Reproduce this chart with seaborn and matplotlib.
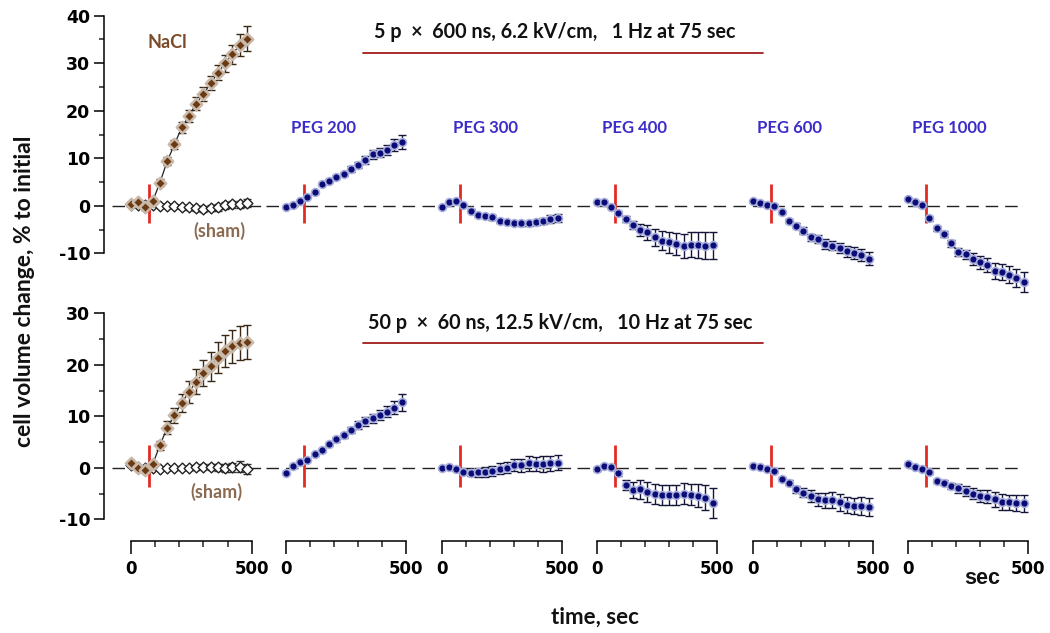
import matplotlib
matplotlib.use("Agg")
import matplotlib.pyplot as plt
from matplotlib.lines import Line2D
import seaborn as sns
import numpy as np

sns.set_theme(style="ticks")
plt.rcParams['font.family'] = ['DejaVu Sans']
plt.rcParams['axes.edgecolor'] = 'black'
plt.rcParams['axes.unicode_minus'] = False

# ---- data ----
time_s = [0, 30, 60, 90, 120, 150, 180, 210, 240, 270, 300, 330, 360, 390, 420, 450, 480]
pulse_time = 75
peg_labels = ["PEG 200", "PEG 300", "PEG 400", "PEG 600", "PEG 1000"]

# top row: 5 p x 600 ns
top_nacl = [0.4, 0.7, -0.3, 1.0, 4.9, 9.4, 12.9, 16.5, 18.9, 21.5, 23.5, 25.8, 28.0, 30.0, 31.9, 33.8, 35.2]
top_nacl_err = [0.5, 0.5, 0.6, 0.7, 0.8, 0.9, 1.0, 1.1, 1.2, 1.3, 1.4, 1.5, 1.6, 1.8, 2.0, 2.3, 2.6]
top_sham = [0.2, 0.2, 0.1, 0.1, 0.0, -0.1, -0.1, -0.2, -0.3, -0.5, -0.6, -0.5, -0.3, 0.1, 0.3, 0.3, 0.6]
top_sham_err = [0.3, 0.3, 0.3, 0.3, 0.3, 0.4, 0.4, 0.4, 0.5, 0.5, 0.6, 0.6, 0.7, 0.7, 0.8, 0.8, 0.9]
top_peg200 = [-0.35, 0.2, 1.05, 1.75, 2.8, 4.6, 5.3, 6.0, 6.7, 7.7, 8.6, 9.6, 10.8, 11.2, 11.7, 12.8, 13.5]
top_peg200_err = [0.2, 0.2, 0.2, 0.2, 0.3, 0.3, 0.3, 0.4, 0.5, 0.6, 0.7, 0.8, 0.9, 1.0, 1.1, 1.3, 1.5]
top_peg300 = [-0.15, 0.7, 1.05, 0.15, -1.05, -2.0, -2.25, -2.45, -3.15, -3.5, -3.65, -3.65, -3.7, -3.5, -3.2, -2.8, -2.6]
top_peg300_err = [0.2, 0.2, 0.2, 0.2, 0.3, 0.3, 0.4, 0.5, 0.4, 0.4, 0.4, 0.5, 0.5, 0.6, 0.7, 0.8, 0.8]
top_peg400 = [0.7, 0.7, -0.15, -1.55, -2.8, -4.0, -5.05, -5.6, -6.65, -7.35, -7.7, -8.05, -8.4, -8.2, -8.3, -8.4, -8.3]
top_peg400_err = [0.2, 0.2, 0.3, 0.4, 0.6, 0.9, 1.2, 1.5, 1.8, 2.0, 2.2, 2.4, 2.5, 2.6, 2.7, 2.8, 2.8]
top_peg600 = [1.05, 0.55, 0.15, 0.0, -1.4, -3.15, -4.2, -5.25, -6.65, -7.0, -8.05, -8.4, -8.9, -9.6, -9.95, -10.3, -11.1]
top_peg600_err = [0.2, 0.2, 0.2, 0.3, 0.3, 0.4, 0.5, 0.7, 0.8, 0.9, 1.0, 1.0, 1.1, 1.2, 1.2, 1.3, 1.4]
top_peg1000 = [1.4, 0.85, 0.15, -2.6, -4.75, -5.95, -7.9, -9.7, -10.2, -11.2, -11.9, -12.4, -13.7, -14.0, -14.5, -15.2, -16.1]
top_peg1000_err = [0.2, 0.2, 0.3, 0.5, 0.6, 0.7, 0.8, 0.9, 1.0, 1.2, 1.3, 1.5, 1.6, 1.7, 1.8, 1.9, 2.1]

# bottom row: 50 p x 60 ns
bot_nacl = [0.85, 0.0, -0.45, 0.7, 4.4, 7.8, 10.2, 12.6, 14.75, 16.7, 18.4, 19.75, 21.35, 22.65, 23.6, 24.15, 24.45]
bot_nacl_err = [0.4, 0.4, 0.5, 0.6, 0.9, 1.2, 1.5, 1.8, 2.1, 2.4, 2.6, 2.8, 3.0, 3.1, 3.2, 3.3, 3.3]
bot_sham = [0.5, 0.2, 0.0, 0.0, -0.2, -0.1, -0.1, 0.0, 0.0, 0.1, 0.2, 0.1, 0.1, 0.0, 0.1, 0.2, -0.3]
bot_sham_err = [0.3, 0.3, 0.3, 0.3, 0.3, 0.3, 0.3, 0.4, 0.4, 0.5, 0.5, 0.6, 0.7, 0.8, 0.9, 1.1, 1.0]
bot_peg200 = [-1.1, 0.4, 1.15, 1.5, 2.65, 3.4, 4.6, 5.5, 6.3, 7.4, 8.3, 9.0, 9.6, 10.2, 10.9, 11.7, 12.7]
bot_peg200_err = [0.2, 0.2, 0.2, 0.2, 0.3, 0.3, 0.3, 0.4, 0.5, 0.6, 0.7, 0.8, 0.9, 1.0, 1.1, 1.3, 1.6]
bot_peg300 = [0.0, 0.2, -0.25, -0.8, -1.0, -0.9, -0.8, -0.6, -0.15, 0.0, 0.5, 0.5, 0.85, 0.7, 0.7, 0.85, 1.0]
bot_peg300_err = [0.2, 0.2, 0.3, 0.5, 0.6, 0.8, 0.9, 1.0, 1.0, 1.1, 1.2, 1.3, 1.4, 1.4, 1.5, 1.5, 1.5]
bot_peg400 = [-0.3, 0.3, 0.2, -1.1, -3.4, -4.3, -4.2, -4.7, -5.1, -5.3, -5.3, -5.3, -5.0, -5.2, -5.4, -5.8, -6.8]
bot_peg400_err = [0.3, 0.3, 0.3, 0.5, 1.0, 1.5, 1.8, 2.0, 2.0, 2.0, 2.0, 2.0, 2.1, 2.1, 2.2, 2.4, 2.9]
bot_peg600 = [0.4, 0.2, -0.15, -0.65, -2.1, -2.9, -4.2, -4.8, -5.5, -6.15, -6.3, -6.3, -6.7, -7.25, -7.45, -7.45, -7.6]
bot_peg600_err = [0.2, 0.2, 0.2, 0.3, 0.4, 0.5, 0.7, 0.9, 1.1, 1.3, 1.5, 1.6, 1.6, 1.6, 1.6, 1.7, 1.8]
bot_peg1000 = [0.65, 0.2, -0.15, -0.9, -2.6, -2.9, -3.55, -4.0, -4.45, -5.0, -5.5, -5.6, -6.15, -6.6, -6.7, -6.8, -6.9]
bot_peg1000_err = [0.2, 0.2, 0.2, 0.3, 0.4, 0.5, 0.6, 0.8, 1.0, 1.1, 1.2, 1.3, 1.4, 1.5, 1.5, 1.6, 1.6]

header_top = "5 p  \u00d7  600 ns, 6.2 kV/cm,   1 Hz at 75 sec"
header_bot = "50 p  \u00d7  60 ns, 12.5 kV/cm,   10 Hz at 75 sec"

rows = [
    dict(nacl=top_nacl, nacl_err=top_nacl_err, sham=top_sham, sham_err=top_sham_err,
         peg=[top_peg200, top_peg300, top_peg400, top_peg600, top_peg1000],
         peg_err=[top_peg200_err, top_peg300_err, top_peg400_err, top_peg600_err, top_peg1000_err],
         zero_py=205.8, scale=4.752, ylim=(-20, 42), bounds=(-10, 40), yticks=[-10, 0, 10, 20, 30, 40],
         sham_pos=(257, -5.3)),
    dict(nacl=bot_nacl, nacl_err=bot_nacl_err, sham=bot_sham, sham_err=bot_sham_err,
         peg=[bot_peg200, bot_peg300, bot_peg400, bot_peg600, bot_peg1000],
         peg_err=[bot_peg200_err, bot_peg300_err, bot_peg400_err, bot_peg600_err, bot_peg1000_err],
         zero_py=467.8, scale=5.15, ylim=(-11.5, 32), bounds=(-10, 30), yticks=[-10, 0, 10, 20, 30],
         sham_pos=(244, -4.6)),
]

# ---- layout (pixel based) ----
W, H = 1050, 633
fig = plt.figure(figsize=(W / 100, H / 100), dpi=100)
px_per_s = 0.2414
xlim = (-80, 563)
zero_px = [131, 285.7, 441.7, 596.7, 752.7, 907.7]
peg_label_x = [20, 45, 22, 18, 17]

nacl_c, nacl_halo = '#6b3a12', '#c8b9aa'
peg_c, peg_halo = '#0b0b78', '#a9b0dc'
pulse_c = '#e32a22'
lab_font = ['Lato', 'DejaVu Sans']

for r, row in enumerate(rows):
    ylo, yhi = row['ylim']
    h_px = row['scale'] * (yhi - ylo)
    bottom_py = row['zero_py'] - row['scale'] * ylo
    for c in range(6):
        left_px = zero_px[c] + xlim[0] * px_per_s
        w_px = (xlim[1] - xlim[0]) * px_per_s
        ax = fig.add_axes([left_px / W, 1 - bottom_py / H, w_px / W, h_px / H])
        ax.patch.set_alpha(0)
        ax.set_xlim(*xlim)
        ax.set_ylim(ylo, yhi)
        for s in ['top', 'right']:
            ax.spines[s].set_visible(False)

        # dashed zero line
        x_end = 475 if c == 5 else xlim[1]
        ax.hlines(0, xlim[0], x_end, colors='#222222', linestyles=(0, (9, 5)), linewidth=1.0, zorder=1)
        # pulse marker
        ax.vlines(pulse_time, -3.7, 4.5, colors=pulse_c, linewidth=2.0, zorder=2)

        if c == 0:
            ax.errorbar(time_s, row['sham'], yerr=row['sham_err'], fmt='none', ecolor='#333333',
                        elinewidth=1, capsize=3, capthick=1, zorder=3)
            sns.lineplot(x=time_s, y=row['sham'], ax=ax, color='#333333', linewidth=0.9, zorder=3)
            sns.scatterplot(x=time_s, y=row['sham'], ax=ax, marker='D', s=30, color='white',
                            edgecolor='#222222', linewidth=1.0, zorder=4, legend=False)
            ax.errorbar(time_s, row['nacl'], yerr=row['nacl_err'], fmt='none', ecolor='#3a2814',
                        elinewidth=1, capsize=3, capthick=1, zorder=5)
            sns.lineplot(x=time_s, y=row['nacl'], ax=ax, color='#222222', linewidth=0.9, zorder=5)
            sns.scatterplot(x=time_s, y=row['nacl'], ax=ax, marker='D', s=34, color=nacl_c,
                            edgecolor=nacl_halo, linewidth=1.8, zorder=6, legend=False)
            ax.text(row['sham_pos'][0], row['sham_pos'][1], "(sham)", color='#8a6a50',
                    fontsize=13, fontweight='bold', family=lab_font, ha='left', va='center')
            if r == 0:
                ax.text(70, 34.3, "NaCl", color='#7b4a28', fontsize=13, fontweight='bold',
                        family=lab_font, ha='left', va='center')
        else:
            k = c - 1
            ax.errorbar(time_s, row['peg'][k], yerr=row['peg_err'][k], fmt='none', ecolor='#15153a',
                        elinewidth=1, capsize=3, capthick=1, zorder=3)
            sns.scatterplot(x=time_s, y=row['peg'][k], ax=ax, marker='o', s=32, color=peg_c,
                            edgecolor=peg_halo, linewidth=1.2, zorder=4, legend=False)
            if r == 0:
                ax.text(peg_label_x[k], 16.4, peg_labels[k], color='#3c2cc8', fontsize=12,
                        fontweight='bold', family=lab_font, ha='left', va='center')

        # y axis only on the first column
        if c == 0:
            ax.spines['left'].set_position(('outward', 5.2))
            ax.spines['left'].set_bounds(*row['bounds'])
            ax.spines['left'].set_linewidth(1.1)
            ax.set_yticks(row['yticks'])
            ax.set_yticks(np.arange(row['bounds'][0], row['bounds'][1] + 1, 5), minor=True)
            ax.tick_params(axis='y', which='major', length=7.2, width=1.1, direction='out',
                           pad=3, labelsize=12.5, colors='black')
            ax.tick_params(axis='y', which='minor', length=3.6, width=1.1, direction='out', left=True)
            for lbl in ax.get_yticklabels():
                lbl.set_fontweight('bold')
        else:
            ax.spines['left'].set_visible(False)
            ax.tick_params(axis='y', which='both', left=False, labelleft=False)

        # x axis only on the bottom row
        if r == 1:
            ax.spines['bottom'].set_position(('outward', 10.1))
            ax.spines['bottom'].set_bounds(0, 500)
            ax.spines['bottom'].set_linewidth(1.1)
            ax.set_xticks([0, 500])
            ax.set_xticks([100, 200, 300, 400], minor=True)
            ax.tick_params(axis='x', which='major', length=9.4, width=1.1, direction='out',
                           pad=4, labelsize=12, colors='black')
            ax.tick_params(axis='x', which='minor', length=4.3, width=1.1, direction='out', bottom=True)
            for lbl in ax.get_xticklabels():
                lbl.set_fontweight('bold')
        else:
            ax.spines['bottom'].set_visible(False)
            ax.tick_params(axis='x', which='both', bottom=False, labelbottom=False)
        ax.set_xlabel("")
        ax.set_ylabel("")

# headers with red underline
for text, ty, ly, cx in [(header_top, 31.7, 53.3, 555), (header_bot, 323, 343.3, 560)]:
    fig.text(cx / W, 1 - ty / H, text, ha='center', va='center', fontsize=14.2,
             fontweight='bold', family=lab_font, color='#111111')
    fig.add_artist(Line2D([363 / W, 763 / W], [1 - ly / H, 1 - ly / H], transform=fig.transFigure,
                          color='#a31a1a', linewidth=1.3))

fig.text(25 / W, 1 - 291.5 / H, "cell volume change, % to initial", rotation=90, ha='center',
         va='center', fontsize=16.5, fontweight='bold', family=lab_font, color='#111111')
fig.text(595 / W, 1 - 617 / H, "time, sec", ha='center', va='center', fontsize=16,
         fontweight='bold', family=lab_font, color='#111111')
fig.text(982 / W, 1 - 578 / H, "sec", ha='center', va='center', fontsize=15.5,
         fontweight='bold', family=['Liberation Sans', 'DejaVu Sans'], color='#111111')

fig.savefig("out.png", dpi=100)
